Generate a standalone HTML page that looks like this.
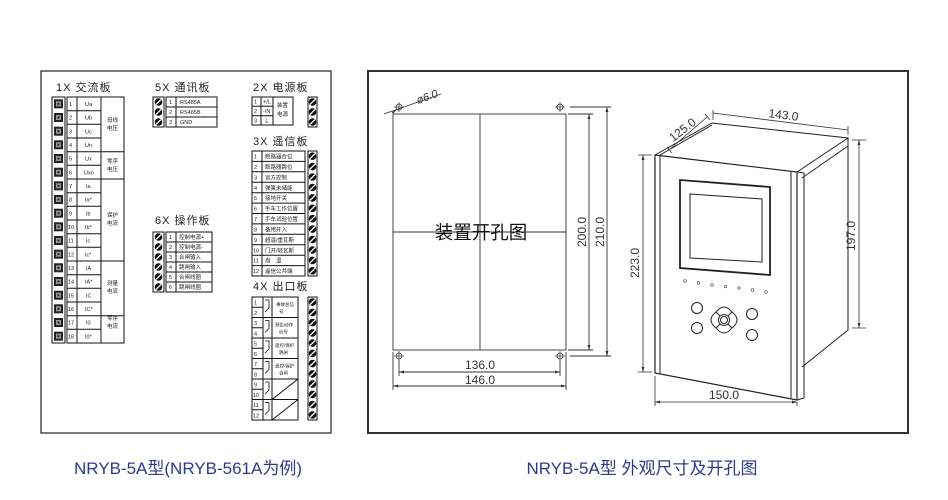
<!DOCTYPE html>
<html><head><meta charset="utf-8"><style>
html,body{margin:0;padding:0;background:#fff;}
svg{display:block;}
.t{font-family:"Liberation Sans","Noto Sans CJK SC",sans-serif;}
.s{font-size:5.5px;fill:#222;}
.h{font-size:11px;fill:#222;letter-spacing:1px;}
.d{font-size:11px;fill:#333;}
</style></head><body>
<svg width="948" height="500" viewBox="0 0 948 500" xmlns="http://www.w3.org/2000/svg" class="t">
<defs>
<g id="sq"><rect x="0" y="0" width="9" height="9" fill="#222"/><rect x="2" y="2" width="5" height="5" fill="#999"/><rect x="3.5" y="3.5" width="2" height="2" fill="#222"/></g>
<g id="sc"><circle r="3.8" fill="#111"/><line x1="-2.4" y1="2.4" x2="2.4" y2="-2.4" stroke="#fff" stroke-width="1.3"/></g>
<g id="hole"><circle r="3" fill="none" stroke="#333" stroke-width="0.8"/><line x1="-5" y1="0" x2="5" y2="0" stroke="#333" stroke-width="0.7"/><line x1="0" y1="-5" x2="0" y2="5" stroke="#333" stroke-width="0.7"/></g>
</defs>
<rect x="0" y="0" width="948" height="500" fill="#fff"/>
<!-- panels -->
<rect x="41" y="71" width="290" height="362" fill="none" stroke="#333" stroke-width="1.3"/>
<rect x="368" y="71" width="540" height="362" fill="none" stroke="#333" stroke-width="2"/>

<!-- 1X -->
<text x="56" y="91" class="h">1X 交流板</text>
<rect x="52" y="97" width="13" height="246" fill="none" stroke="#111" stroke-width="1"/>
<use href="#sq" x="54" y="99.3"/><use href="#sq" x="54" y="113"/><use href="#sq" x="54" y="126.7"/><use href="#sq" x="54" y="140.3"/><use href="#sq" x="54" y="154"/><use href="#sq" x="54" y="167.7"/><use href="#sq" x="54" y="181.3"/><use href="#sq" x="54" y="195"/><use href="#sq" x="54" y="208.7"/><use href="#sq" x="54" y="222.3"/><use href="#sq" x="54" y="236"/><use href="#sq" x="54" y="249.7"/><use href="#sq" x="54" y="263.3"/><use href="#sq" x="54" y="277"/><use href="#sq" x="54" y="290.7"/><use href="#sq" x="54" y="304.3"/><use href="#sq" x="54" y="318"/><use href="#sq" x="54" y="331.7"/>
<g stroke="#111" stroke-width="1" fill="none">
<rect x="67" y="97" width="57" height="246"/>
<path d="M77 97V343M101 97V343M67 110.7H101M67 124.3H101M67 138H101M67 151.7H124M67 165.3H101M67 179H124M67 192.7H101M67 206.3H101M67 220H101M67 233.7H101M67 247.3H101M67 261H124M67 274.7H101M67 288.3H101M67 302H101M67 315.7H124M67 329.3H101"/>
</g>
<g class="s">
<text x="69" y="106">1</text><text x="69" y="119.7">2</text><text x="69" y="133.4">3</text><text x="69" y="147">4</text><text x="69" y="160.7">5</text><text x="69" y="174.4">6</text><text x="69" y="188">7</text><text x="69" y="201.7">8</text><text x="69" y="215.4">9</text><text x="68" y="229">10</text><text x="68" y="242.7">11</text><text x="68" y="256.4">12</text><text x="68" y="270">13</text><text x="68" y="283.7">14</text><text x="68" y="297.4">15</text><text x="68" y="311">16</text><text x="68" y="324.7">17</text><text x="68" y="338.4">18</text>
<text x="85" y="106">Ua</text><text x="85" y="119.7">Ub</text><text x="85" y="133.4">Uc</text><text x="85" y="147">Un</text><text x="85" y="160.7">Ux</text><text x="84" y="174.4">Uxn</text><text x="86" y="188">Ia</text><text x="85" y="201.7">Ia*</text><text x="86" y="215.4">Ib</text><text x="85" y="229">Ib*</text><text x="86" y="242.7">Ic</text><text x="85" y="256.4">Ic*</text><text x="86" y="270">IA</text><text x="85" y="283.7">IA*</text><text x="86" y="297.4">IC</text><text x="85" y="311">IC*</text><text x="86" y="324.7">I0</text><text x="85" y="338.4">I0*</text>
<text x="107" y="122">母线</text><text x="107" y="130">电压</text>
<text x="107" y="163">零序</text><text x="107" y="171">电压</text>
<text x="107" y="217">保护</text><text x="107" y="225">电流</text>
<text x="107" y="285">测量</text><text x="107" y="293">电流</text>
<text x="107" y="320">零序</text><text x="107" y="328">电流</text>
</g>

<!-- 5X -->
<text x="155" y="91" class="h">5X 通讯板</text>
<rect x="153" y="97" width="11" height="30" fill="none" stroke="#111"/>
<use href="#sc" x="158.5" y="102"/><use href="#sc" x="158.5" y="112"/><use href="#sc" x="158.5" y="122"/>
<g stroke="#111" fill="none"><rect x="166" y="97" width="51" height="30"/><path d="M176 97V127M166 107H217M166 117H217"/></g>
<g class="s"><text x="169" y="104">1</text><text x="169" y="114">2</text><text x="169" y="124">3</text><text x="180" y="104">RS485A</text><text x="180" y="114">RS485B</text><text x="180" y="124">GND</text></g>

<!-- 6X -->
<text x="155" y="224" class="h">6X 操作板</text>
<rect x="153" y="232" width="11" height="60" fill="none" stroke="#111"/>
<use href="#sc" x="158.5" y="237"/><use href="#sc" x="158.5" y="247"/><use href="#sc" x="158.5" y="257"/><use href="#sc" x="158.5" y="267"/><use href="#sc" x="158.5" y="277"/><use href="#sc" x="158.5" y="287"/>
<g stroke="#111" fill="none"><rect x="166" y="232" width="46" height="60"/><path d="M176 232V292M166 242H212M166 252H212M166 262H212M166 272H212M166 282H212"/></g>
<g class="s"><text x="169" y="239">1</text><text x="169" y="249">2</text><text x="169" y="259">3</text><text x="169" y="269">4</text><text x="169" y="279">5</text><text x="169" y="289">6</text>
<text x="179" y="239">控制电源+</text><text x="179" y="249">控制电源-</text><text x="179" y="259">合闸输入</text><text x="179" y="269">跳闸输入</text><text x="179" y="279">合闸线圈</text><text x="179" y="289">跳闸线圈</text></g>

<!-- 2X -->
<text x="253" y="91" class="h">2X 电源板</text>
<g stroke="#111" fill="none"><rect x="252" y="97" width="41" height="28"/><path d="M261 97V125M273 97V125M252 106.3H273M252 115.7H273"/></g>
<g class="s"><text x="254" y="103.5">1</text><text x="254" y="113">2</text><text x="254" y="122.5">3</text><text x="263" y="103.5">+/L</text><text x="263" y="113">-/N</text><text x="264" y="123">⏚</text><text x="277" y="107">装置</text><text x="277" y="116">电源</text></g>
<rect x="308" y="97" width="9" height="30" fill="none" stroke="#111"/>
<use href="#sc" x="312.5" y="102"/><use href="#sc" x="312.5" y="112"/><use href="#sc" x="312.5" y="122"/>

<!-- 3X -->
<text x="253" y="145" class="h">3X 遥信板</text>
<g stroke="#111" fill="none"><rect x="252" y="151" width="53" height="125"/><path d="M262 151V276M252 161.4H305M252 171.8H305M252 182.3H305M252 192.7H305M252 203.1H305M252 213.5H305M252 223.9H305M252 234.3H305M252 244.8H305M252 255.2H305M252 265.6H305"/></g>
<g class="s">
<text x="254" y="158.5">1</text><text x="254" y="169">2</text><text x="254" y="179.4">3</text><text x="254" y="189.8">4</text><text x="254" y="200.2">5</text><text x="254" y="210.6">6</text><text x="254" y="221">7</text><text x="254" y="231.5">8</text><text x="254" y="241.9">9</text><text x="253" y="252.3">10</text><text x="253" y="262.7">11</text><text x="253" y="273.1">12</text>
<text x="265" y="158.5">断路器合位</text><text x="265" y="169">断路器跳位</text><text x="265" y="179.4">远方控制</text><text x="265" y="189.8">弹簧未储能</text><text x="265" y="200.2">接地开关</text><text x="265" y="210.6">手车工作位置</text><text x="265" y="221">手车试验位置</text><text x="265" y="231.5">备用开入</text><text x="265" y="241.9">超温/重瓦斯</text><text x="265" y="252.3">门开/轻瓦斯</text><text x="265" y="262.7">高　温</text><text x="265" y="273.1">遥信公共端</text></g>
<rect x="308" y="151" width="9" height="125" fill="none" stroke="#111"/>
<use href="#sc" x="312.5" y="156.2"/><use href="#sc" x="312.5" y="166.6"/><use href="#sc" x="312.5" y="177"/><use href="#sc" x="312.5" y="187.5"/><use href="#sc" x="312.5" y="197.9"/><use href="#sc" x="312.5" y="208.3"/><use href="#sc" x="312.5" y="218.7"/><use href="#sc" x="312.5" y="229.1"/><use href="#sc" x="312.5" y="239.6"/><use href="#sc" x="312.5" y="250"/><use href="#sc" x="312.5" y="260.4"/><use href="#sc" x="312.5" y="270.8"/>

<!-- 4X -->
<text x="253" y="290" class="h">4X 出口板</text>
<g stroke="#111" fill="none"><rect x="252" y="297" width="46" height="123"/>
<path d="M263 297V420M272 297V420M252 307.3H263M252 327.8H263M252 348.3H263M252 368.8H263M252 389.3H263M252 409.8H263M252 317.5H298M252 338H298M252 358.5H298M252 379H298M252 399.5H298"/>
<path d="M265 300H269V308L265 312M265 320.5H269V328.5L265 332.5M265 341H269V349L265 353M265 361.5H269V369.5L265 373.5M265 382H269V390L265 394M265 402.5H269V410.5L265 414.5" stroke-width="0.8"/>
<path d="M272 399.5L298 379M272 420L298 399.5"/></g>
<g class="s">
<text x="254" y="304.5">1</text><text x="254" y="314.8">2</text><text x="254" y="325">3</text><text x="254" y="335.3">4</text><text x="254" y="345.5">5</text><text x="254" y="355.8">6</text><text x="254" y="366">7</text><text x="254" y="376.3">8</text><text x="254" y="386.5">9</text><text x="253" y="396.8">10</text><text x="253" y="407">11</text><text x="253" y="417.3">12</text>
<text x="276" y="306" style="font-size:4.5px">事故总信</text><text x="279" y="313" style="font-size:4.5px">号</text>
<text x="275" y="326.5" style="font-size:4.5px">预告动作</text><text x="279" y="333.5" style="font-size:4.5px">信号</text>
<text x="275" y="347" style="font-size:4.5px">遥控/保护</text><text x="279" y="354" style="font-size:4.5px">跳闸</text>
<text x="275" y="367.5" style="font-size:4.5px">遥控/保护</text><text x="279" y="374.5" style="font-size:4.5px">合闸</text></g>
<rect x="308" y="297" width="9" height="123" fill="none" stroke="#111"/>
<use href="#sc" x="312.5" y="302.1"/><use href="#sc" x="312.5" y="312.4"/><use href="#sc" x="312.5" y="322.6"/><use href="#sc" x="312.5" y="332.9"/><use href="#sc" x="312.5" y="343.1"/><use href="#sc" x="312.5" y="353.4"/><use href="#sc" x="312.5" y="363.6"/><use href="#sc" x="312.5" y="373.9"/><use href="#sc" x="312.5" y="384.1"/><use href="#sc" x="312.5" y="394.4"/><use href="#sc" x="312.5" y="404.6"/><use href="#sc" x="312.5" y="414.9"/>

<!-- cutout drawing -->
<g stroke="#333" fill="none" stroke-width="0.9">
<rect x="393" y="114" width="173" height="236"/>
<path d="M480 114V350M393 232H566"/>
<path d="M393 352V390M566 352V390M399 360V376M560 360V376M399 372H560M393 386H566"/>
<path d="M568 114H593M568 350H593M570 107H611M570 356H611M589 114V350M607 107V356"/>
<path d="M384 114L441 94"/>
</g>
<g fill="#333">
<path d="M399 372l5 -1.5v3zM560 372l-5 -1.5v3zM393 386l5 -1.5v3zM566 386l-5 -1.5v3z"/>
<path d="M589 114l-1.5 5h3zM589 350l-1.5 -5h3zM607 107l-1.5 5h3zM607 356l-1.5 -5h3z"/>
<path d="M397 109l-5 3 1 2z"/>
</g>
<use href="#hole" x="399" y="107"/><use href="#hole" x="560" y="107"/><use href="#hole" x="399" y="356"/><use href="#hole" x="560" y="356"/>
<text x="418" y="104" class="d" transform="rotate(-20 418 104)" style="font-style:italic">ø6.0</text>
<text x="480" y="369" class="d" text-anchor="middle" style="font-size:12px">136.0</text>
<text x="480" y="384" class="d" text-anchor="middle" style="font-size:12px">146.0</text>
<text x="586" y="232" class="d" text-anchor="middle" transform="rotate(-90 586 232)" style="font-size:12px">200.0</text>
<text x="604" y="232" class="d" text-anchor="middle" transform="rotate(-90 604 232)" style="font-size:12px">210.0</text>
<text x="481" y="239" text-anchor="middle" style="font-size:18.5px;fill:#111">装置开孔图</text>

<!-- device -->
<g stroke="#222" fill="none" stroke-width="1">
<path d="M655 155L797 172V400L655 373Z" stroke-width="1.2"/>
<path d="M660 156V374M791 171V398M797 172L804 173V398L797 400"/>
<path d="M655 155L712 123L848 138L797 172M660 155L712 125M848 138V330L802 367M802 178L848 146"/>
<path d="M680 180L770 187V275L680 268Z" stroke-width="1.8"/>
<path d="M690 194L762 199V262L690 258Z"/>
<circle cx="697" cy="308" r="5.5"/><circle cx="697" cy="328" r="5.5"/><circle cx="752" cy="314" r="5.5"/><circle cx="752" cy="335" r="5.5"/>
<circle cx="724" cy="320" r="3.5"/>
<path d="M716 312Q724 302 732 312L728 316Q724 313 720 316ZM716 328Q724 338 732 328L728 324Q724 327 720 324ZM716 312Q706 320 716 328L720 324Q717 320 720 316ZM732 312Q742 320 732 328L728 324Q731 320 728 316Z"/>
</g>
<g fill="none" stroke="#444" stroke-width="0.6">
<circle cx="685" cy="281" r="1.3"/><circle cx="698.5" cy="283" r="1.3"/><circle cx="712" cy="285" r="1.3"/><circle cx="725.5" cy="286.5" r="1.3"/><circle cx="739" cy="288" r="1.3"/><circle cx="752.5" cy="290" r="1.3"/><circle cx="766" cy="292" r="1.3"/>
</g>
<g stroke="#333" fill="none" stroke-width="0.8">
<path d="M643 155V372M638 155H652M638 372H652"/>
<path d="M859 140V328M852 140H866M852 328H866"/>
<path d="M655 376V406M797 402V406M655 402H797"/>
<path d="M713 113L848 130M713 110V120M848 126V135"/>
<path d="M669 150L707 117M667 147L672 153M705 114L710 120"/>
</g>
<g fill="#333">
<path d="M643 155l-1.5 5h3zM643 372l-1.5 -5h3zM859 140l-1.5 5h3zM859 328l-1.5 -5h3zM655 402l5 -1.5v3zM797 402l-5 -1.5v3z"/>
</g>
<text x="639" y="263" class="d" text-anchor="middle" transform="rotate(-90 639 263)" style="font-size:12px">223.0</text>
<text x="855" y="236" class="d" text-anchor="middle" transform="rotate(-90 855 236)" style="font-size:12px">197.0</text>
<text x="724" y="399" class="d" text-anchor="middle" style="font-size:12px">150.0</text>
<text x="783" y="119" class="d" text-anchor="middle" transform="rotate(7 783 119)" style="font-size:12px">143.0</text>
<text x="685" y="133" class="d" text-anchor="middle" transform="rotate(-38 685 133)" style="font-size:12px">125.0</text>

<!-- captions -->
<text x="188" y="474" text-anchor="middle" style="font-size:17px;fill:#2d3a8c">NRYB-5A型(NRYB-561A为例)</text>
<text x="642" y="474" text-anchor="middle" style="font-size:17px;fill:#2d3a8c">NRYB-5A型 外观尺寸及开孔图</text>
</svg>
</body></html>
